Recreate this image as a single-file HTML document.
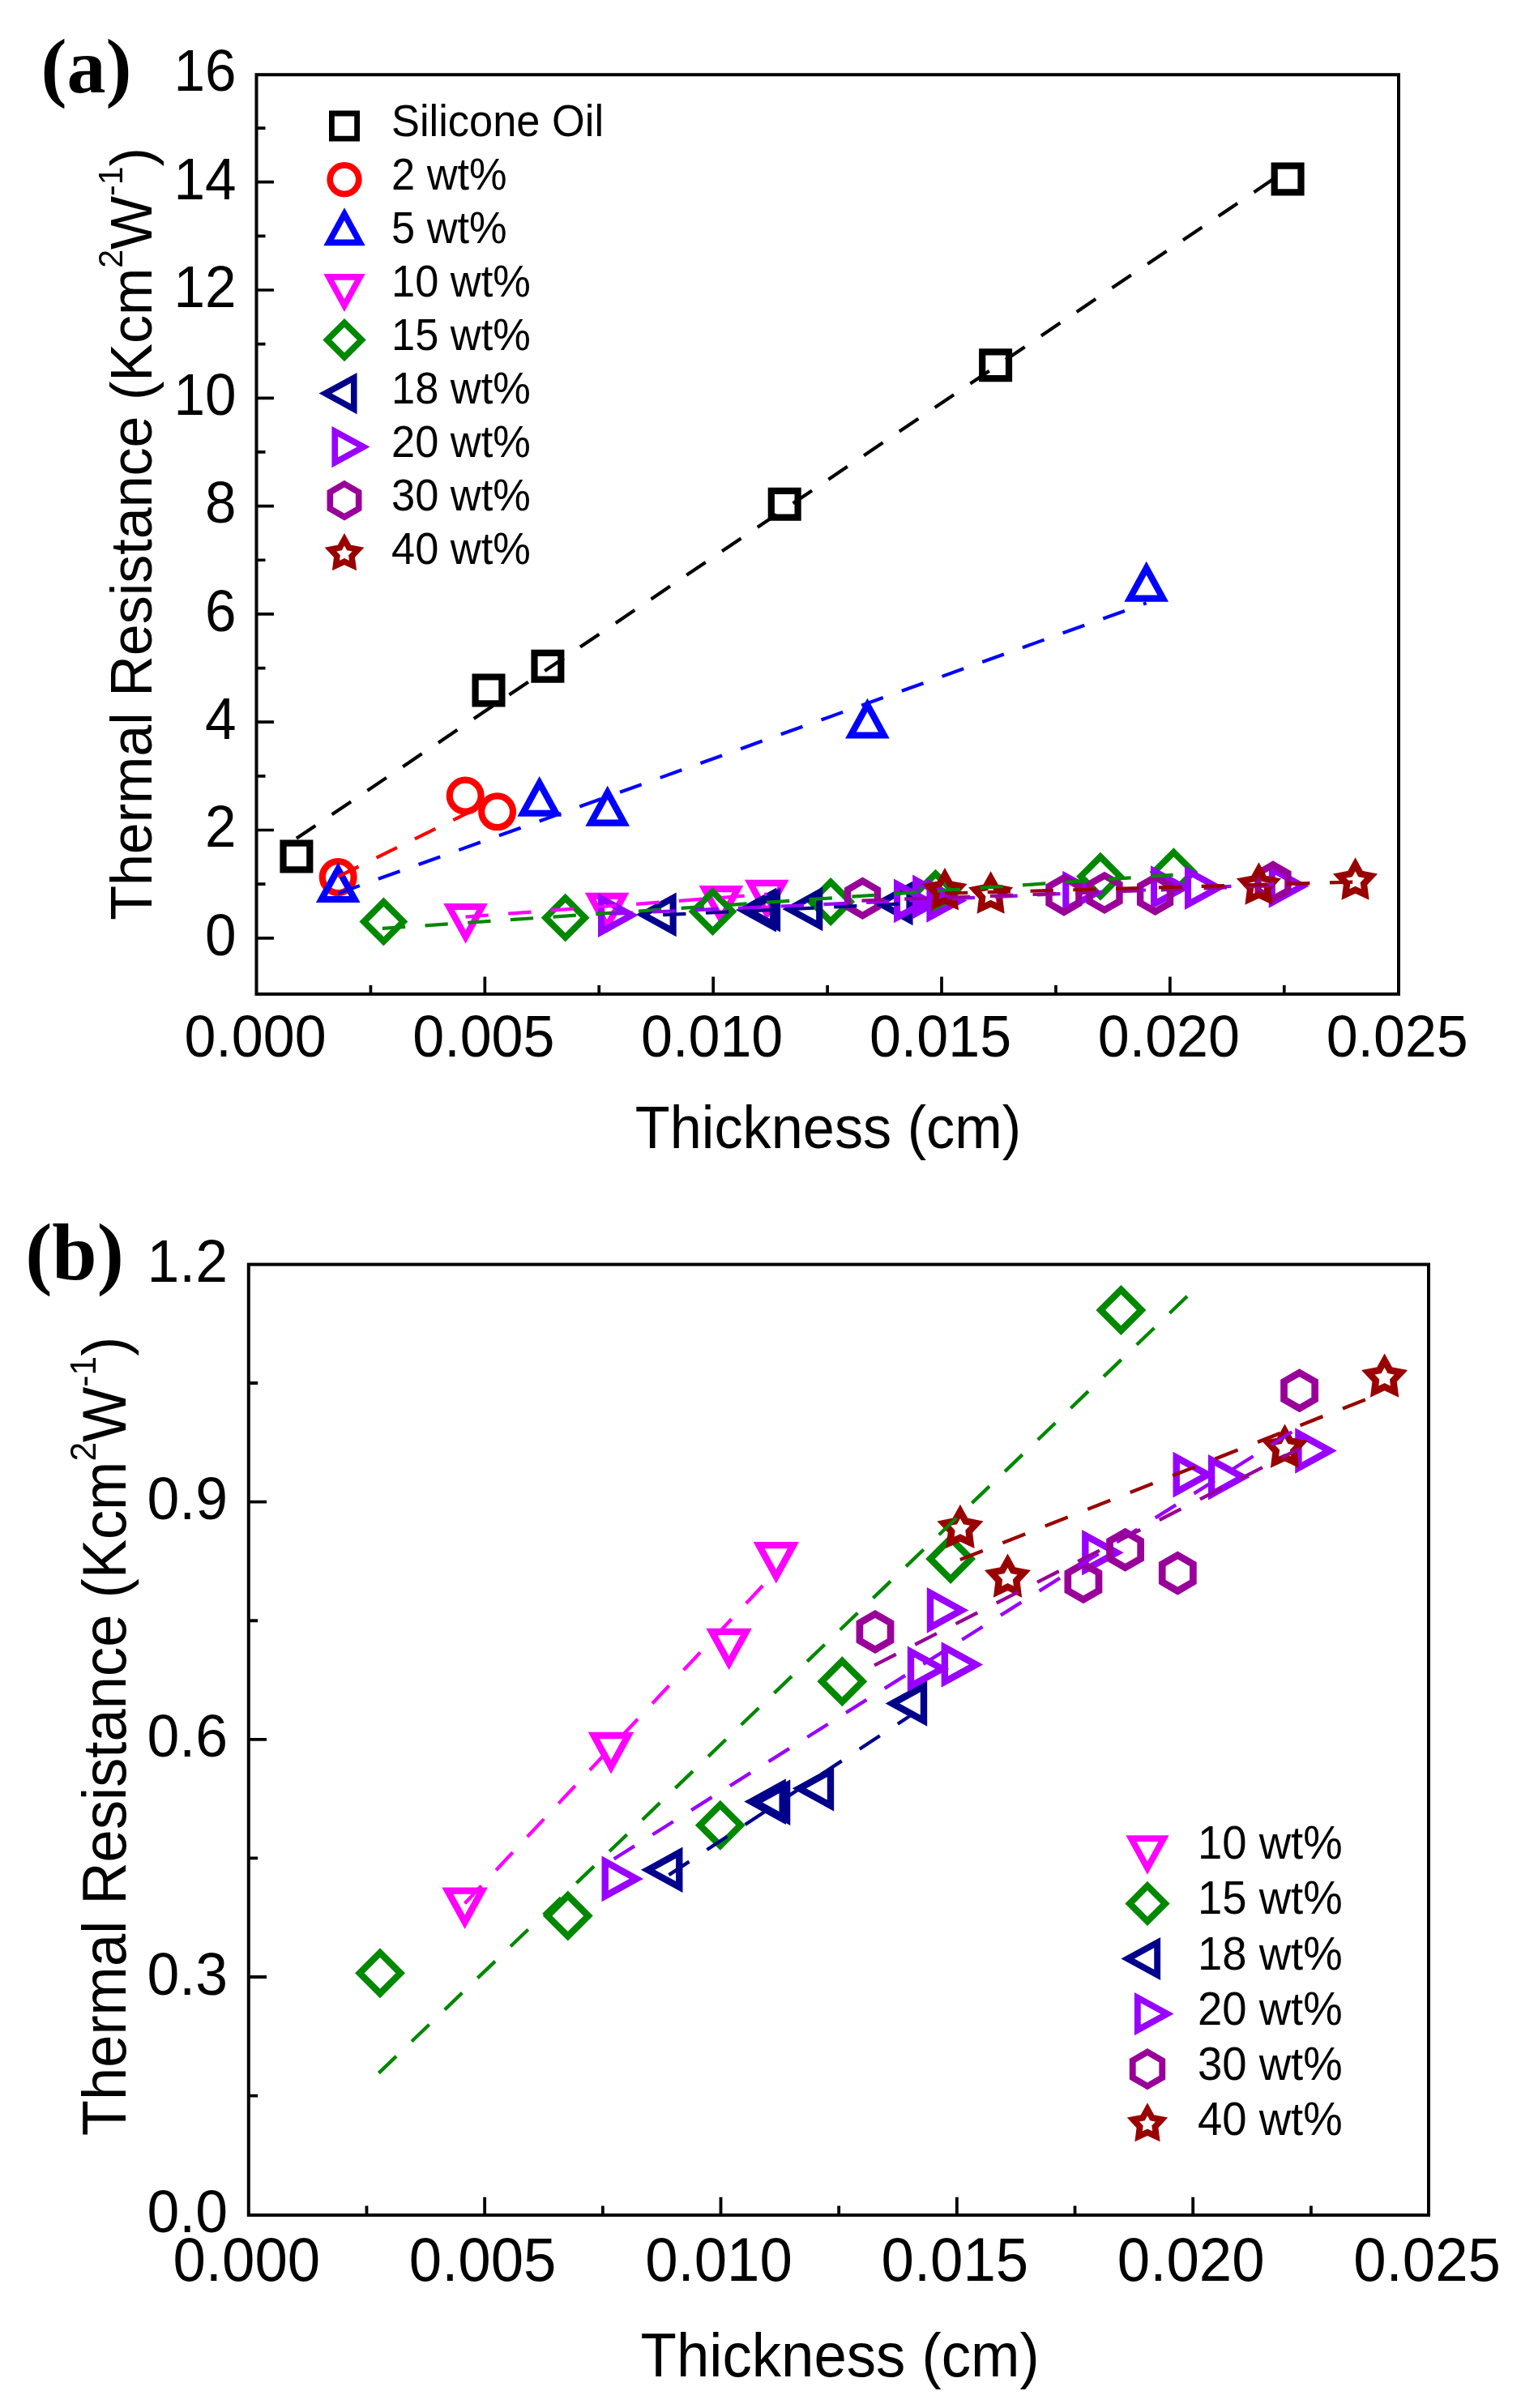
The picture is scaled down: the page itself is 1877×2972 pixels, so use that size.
<!DOCTYPE html>
<html><head><meta charset="utf-8"><title>Thermal Resistance vs Thickness</title>
<style>html,body{margin:0;padding:0;background:#fff}svg{display:block;filter:blur(0.75px)}</style></head>
<body>
<svg width="1877" height="2972" viewBox="0 0 1877 2972">
<rect width="1877" height="2972" fill="#fff"/>
<defs><clipPath id="clipB"><rect x="306.80" y="1560.60" width="1456.20" height="1173.30"/></clipPath></defs>
<g id="panelA">
<rect x="316.50" y="92.20" width="1409.50" height="1134.70" fill="none" stroke="#000" stroke-width="4.00"/>
<path d="M598.34 1226.90v-21.50M880.18 1226.90v-21.50M1162.02 1226.90v-21.50M1443.86 1226.90v-21.50M457.42 1226.90v-11.00M739.26 1226.90v-11.00M1021.10 1226.90v-11.00M1302.94 1226.90v-11.00M1584.78 1226.90v-11.00M316.50 1157.80h21.50M316.50 1024.50h21.50M316.50 891.20h21.50M316.50 757.90h21.50M316.50 624.60h21.50M316.50 491.30h21.50M316.50 358.00h21.50M316.50 224.70h21.50M316.50 1091.15h11.00M316.50 957.85h11.00M316.50 824.55h11.00M316.50 691.25h11.00M316.50 557.95h11.00M316.50 424.65h11.00M316.50 291.35h11.00M316.50 158.05h11.00" stroke="#000" stroke-width="3.70" fill="none"/>
<polygon points="349.50,1040.60 382.30,1040.60 382.30,1073.40 349.50,1073.40" fill="none" stroke="#000000" stroke-width="8.20" stroke-linejoin="miter"/>
<polygon points="586.60,835.50 619.40,835.50 619.40,868.30 586.60,868.30" fill="none" stroke="#000000" stroke-width="8.20" stroke-linejoin="miter"/>
<polygon points="659.50,805.90 692.30,805.90 692.30,838.70 659.50,838.70" fill="none" stroke="#000000" stroke-width="8.20" stroke-linejoin="miter"/>
<polygon points="951.80,605.80 984.60,605.80 984.60,638.60 951.80,638.60" fill="none" stroke="#000000" stroke-width="8.20" stroke-linejoin="miter"/>
<polygon points="1212.20,434.30 1245.00,434.30 1245.00,467.10 1212.20,467.10" fill="none" stroke="#000000" stroke-width="8.20" stroke-linejoin="miter"/>
<polygon points="1572.70,204.60 1605.50,204.60 1605.50,237.40 1572.70,237.40" fill="none" stroke="#000000" stroke-width="8.20" stroke-linejoin="miter"/>
<circle cx="417.20" cy="1082.60" r="19.40" fill="none" stroke="#FF0000" stroke-width="8.20"/>
<circle cx="574.20" cy="982.10" r="19.40" fill="none" stroke="#FF0000" stroke-width="8.20"/>
<circle cx="613.60" cy="1001.80" r="19.40" fill="none" stroke="#FF0000" stroke-width="8.20"/>
<polygon points="417.20,1072.67 437.70,1110.07 396.70,1110.07" fill="none" stroke="#0000FF" stroke-width="8.10" stroke-linejoin="miter" stroke-miterlimit="6"/>
<polygon points="665.70,966.37 686.20,1003.77 645.20,1003.77" fill="none" stroke="#0000FF" stroke-width="8.10" stroke-linejoin="miter" stroke-miterlimit="6"/>
<polygon points="749.70,978.27 770.20,1015.67 729.20,1015.67" fill="none" stroke="#0000FF" stroke-width="8.10" stroke-linejoin="miter" stroke-miterlimit="6"/>
<polygon points="1070.40,870.07 1090.90,907.47 1049.90,907.47" fill="none" stroke="#0000FF" stroke-width="8.10" stroke-linejoin="miter" stroke-miterlimit="6"/>
<polygon points="1414.70,701.27 1435.20,738.67 1394.20,738.67" fill="none" stroke="#0000FF" stroke-width="8.10" stroke-linejoin="miter" stroke-miterlimit="6"/>
<polygon points="574.59,1156.36 554.09,1118.96 595.09,1118.96" fill="none" stroke="#FF00FF" stroke-width="8.10" stroke-linejoin="miter" stroke-miterlimit="6"/>
<polygon points="749.10,1143.29 728.60,1105.89 769.60,1105.89" fill="none" stroke="#FF00FF" stroke-width="8.10" stroke-linejoin="miter" stroke-miterlimit="6"/>
<polygon points="889.95,1134.56 869.45,1097.16 910.45,1097.16" fill="none" stroke="#FF00FF" stroke-width="8.10" stroke-linejoin="miter" stroke-miterlimit="6"/>
<polygon points="946.25,1127.27 925.75,1089.87 966.75,1089.87" fill="none" stroke="#FF00FF" stroke-width="8.10" stroke-linejoin="miter" stroke-miterlimit="6"/>
<polygon points="473.41,1113.18 497.71,1137.48 473.41,1161.78 449.11,1137.48" fill="none" stroke="#008800" stroke-width="8.00" stroke-linejoin="miter"/>
<polygon points="697.64,1108.36 721.94,1132.66 697.64,1156.96 673.34,1132.66" fill="none" stroke="#008800" stroke-width="8.00" stroke-linejoin="miter"/>
<polygon points="879.50,1100.73 903.80,1125.03 879.50,1149.33 855.20,1125.03" fill="none" stroke="#008800" stroke-width="8.00" stroke-linejoin="miter"/>
<polygon points="1025.09,1088.63 1049.39,1112.93 1025.09,1137.23 1000.79,1112.93" fill="none" stroke="#008800" stroke-width="8.00" stroke-linejoin="miter"/>
<polygon points="1154.52,1078.31 1178.82,1102.61 1154.52,1126.91 1130.22,1102.61" fill="none" stroke="#008800" stroke-width="8.00" stroke-linejoin="miter"/>
<polygon points="1357.96,1057.37 1382.26,1081.67 1357.96,1105.97 1333.66,1081.67" fill="none" stroke="#008800" stroke-width="8.00" stroke-linejoin="miter"/>
<polygon points="1448.41,1051.99 1472.71,1076.29 1448.41,1100.59 1424.11,1076.29" fill="none" stroke="#008800" stroke-width="8.00" stroke-linejoin="miter"/>
<polygon points="793.24,1128.79 830.64,1108.29 830.64,1149.29" fill="none" stroke="#00008B" stroke-width="8.10" stroke-linejoin="miter" stroke-miterlimit="6"/>
<polygon points="916.48,1123.05 953.88,1102.55 953.88,1143.55" fill="none" stroke="#00008B" stroke-width="8.10" stroke-linejoin="miter" stroke-miterlimit="6"/>
<polygon points="921.70,1123.11 959.10,1102.61 959.10,1143.61" fill="none" stroke="#00008B" stroke-width="8.10" stroke-linejoin="miter" stroke-miterlimit="6"/>
<polygon points="973.84,1121.93 1011.24,1101.43 1011.24,1142.43" fill="none" stroke="#00008B" stroke-width="8.10" stroke-linejoin="miter" stroke-miterlimit="6"/>
<polygon points="1085.09,1114.79 1122.49,1094.29 1122.49,1135.29" fill="none" stroke="#00008B" stroke-width="8.10" stroke-linejoin="miter" stroke-miterlimit="6"/>
<polygon points="779.45,1129.55 742.05,1150.05 742.05,1109.05" fill="none" stroke="#9900FF" stroke-width="8.10" stroke-linejoin="miter" stroke-miterlimit="6"/>
<polygon points="1144.44,1111.87 1107.04,1132.37 1107.04,1091.37" fill="none" stroke="#9900FF" stroke-width="8.10" stroke-linejoin="miter" stroke-miterlimit="6"/>
<polygon points="1184.87,1111.51 1147.47,1132.01 1147.47,1091.01" fill="none" stroke="#9900FF" stroke-width="8.10" stroke-linejoin="miter" stroke-miterlimit="6"/>
<polygon points="1167.65,1106.94 1130.25,1127.44 1130.25,1086.44" fill="none" stroke="#9900FF" stroke-width="8.10" stroke-linejoin="miter" stroke-miterlimit="6"/>
<polygon points="1352.71,1102.09 1315.31,1122.59 1315.31,1081.59" fill="none" stroke="#9900FF" stroke-width="8.10" stroke-linejoin="miter" stroke-miterlimit="6"/>
<polygon points="1461.44,1095.53 1424.04,1116.03 1424.04,1075.03" fill="none" stroke="#9900FF" stroke-width="8.10" stroke-linejoin="miter" stroke-miterlimit="6"/>
<polygon points="1503.42,1095.74 1466.02,1116.24 1466.02,1075.24" fill="none" stroke="#9900FF" stroke-width="8.10" stroke-linejoin="miter" stroke-miterlimit="6"/>
<polygon points="1607.22,1093.51 1569.82,1114.01 1569.82,1073.01" fill="none" stroke="#9900FF" stroke-width="8.10" stroke-linejoin="miter" stroke-miterlimit="6"/>
<polygon points="1064.46,1087.45 1082.91,1098.10 1082.91,1119.40 1064.46,1130.05 1046.02,1119.40 1046.02,1098.10" fill="none" stroke="#990099" stroke-width="8.40" stroke-linejoin="miter"/>
<polygon points="1312.98,1083.24 1331.42,1093.89 1331.42,1115.19 1312.98,1125.84 1294.53,1115.19 1294.53,1093.89" fill="none" stroke="#990099" stroke-width="8.40" stroke-linejoin="miter"/>
<polygon points="1362.99,1080.55 1381.44,1091.20 1381.44,1112.50 1362.99,1123.15 1344.54,1112.50 1344.54,1091.20" fill="none" stroke="#990099" stroke-width="8.40" stroke-linejoin="miter"/>
<polygon points="1425.58,1082.51 1444.02,1093.16 1444.02,1114.46 1425.58,1125.11 1407.13,1114.46 1407.13,1093.16" fill="none" stroke="#990099" stroke-width="8.40" stroke-linejoin="miter"/>
<polygon points="1570.97,1067.15 1589.42,1077.80 1589.42,1099.10 1570.97,1109.75 1552.52,1099.10 1552.52,1077.80" fill="none" stroke="#990099" stroke-width="8.40" stroke-linejoin="miter"/>
<polygon points="1165.99,1079.52 1172.44,1091.19 1185.53,1093.72 1176.43,1103.46 1178.07,1116.70 1165.99,1111.05 1153.91,1116.70 1155.54,1103.46 1146.44,1093.72 1159.53,1091.19" fill="none" stroke="#990000" stroke-width="8.20" stroke-linejoin="miter"/>
<polygon points="1222.63,1083.66 1229.08,1095.33 1242.17,1097.86 1233.07,1107.60 1234.70,1120.84 1222.63,1115.19 1210.55,1120.84 1212.18,1107.60 1203.08,1097.86 1216.17,1095.33" fill="none" stroke="#990000" stroke-width="8.20" stroke-linejoin="miter"/>
<polygon points="1553.46,1072.76 1559.92,1084.42 1573.01,1086.95 1563.90,1096.70 1565.54,1109.93 1553.46,1104.29 1541.38,1109.93 1543.02,1096.70 1533.92,1086.95 1547.01,1084.42" fill="none" stroke="#990000" stroke-width="8.20" stroke-linejoin="miter"/>
<polygon points="1672.54,1066.82 1679.00,1078.48 1692.09,1081.01 1682.99,1090.76 1684.62,1103.99 1672.54,1098.35 1660.46,1103.99 1662.10,1090.76 1653.00,1081.01 1666.09,1078.48" fill="none" stroke="#990000" stroke-width="8.20" stroke-linejoin="miter"/>
<line x1="365.90" y1="1034.80" x2="1589.10" y2="209.10" stroke="#000000" stroke-width="4.20" stroke-dasharray="28.3 24.5"/>
<line x1="417.20" y1="1082.00" x2="605.50" y2="989.30" stroke="#FF0000" stroke-width="4.20" stroke-dasharray="28.3 24.5"/>
<line x1="417.20" y1="1102.70" x2="1414.70" y2="744.30" stroke="#0000FF" stroke-width="4.20" stroke-dasharray="28.3 24.5"/>
<line x1="574.59" y1="1131.62" x2="946.25" y2="1103.67" stroke="#FF00FF" stroke-width="4.20" stroke-dasharray="28.3 24.5"/>
<line x1="471.86" y1="1145.89" x2="1447.63" y2="1079.79" stroke="#008800" stroke-width="4.20" stroke-dasharray="28.3 24.5"/>
<line x1="818.17" y1="1129.22" x2="1110.02" y2="1115.64" stroke="#00008B" stroke-width="4.20" stroke-dasharray="28.3 24.5"/>
<line x1="752.68" y1="1127.87" x2="1582.29" y2="1091.02" stroke="#9900FF" stroke-width="4.20" stroke-dasharray="28.3 24.5"/>
<line x1="1063.49" y1="1111.58" x2="1570.97" y2="1093.33" stroke="#990099" stroke-width="4.20" stroke-dasharray="28.3 24.5"/>
<line x1="1165.94" y1="1102.68" x2="1672.35" y2="1088.57" stroke="#990000" stroke-width="4.20" stroke-dasharray="28.3 24.5"/>
<text transform="translate(291.50,1178.60) scale(1,1.045)" font-size="69.30" text-anchor="end" font-family="'Liberation Sans', Arial, sans-serif" font-weight="normal" >0</text>
<text transform="translate(291.50,1045.30) scale(1,1.045)" font-size="69.30" text-anchor="end" font-family="'Liberation Sans', Arial, sans-serif" font-weight="normal" >2</text>
<text transform="translate(291.50,912.00) scale(1,1.045)" font-size="69.30" text-anchor="end" font-family="'Liberation Sans', Arial, sans-serif" font-weight="normal" >4</text>
<text transform="translate(291.50,778.70) scale(1,1.045)" font-size="69.30" text-anchor="end" font-family="'Liberation Sans', Arial, sans-serif" font-weight="normal" >6</text>
<text transform="translate(291.50,645.40) scale(1,1.045)" font-size="69.30" text-anchor="end" font-family="'Liberation Sans', Arial, sans-serif" font-weight="normal" >8</text>
<text transform="translate(291.50,512.10) scale(1,1.045)" font-size="69.30" text-anchor="end" font-family="'Liberation Sans', Arial, sans-serif" font-weight="normal" >10</text>
<text transform="translate(291.50,378.80) scale(1,1.045)" font-size="69.30" text-anchor="end" font-family="'Liberation Sans', Arial, sans-serif" font-weight="normal" >12</text>
<text transform="translate(291.50,245.50) scale(1,1.045)" font-size="69.30" text-anchor="end" font-family="'Liberation Sans', Arial, sans-serif" font-weight="normal" >14</text>
<text transform="translate(291.50,112.20) scale(1,1.045)" font-size="69.30" text-anchor="end" font-family="'Liberation Sans', Arial, sans-serif" font-weight="normal" >16</text>
<text transform="translate(315.00,1303.50) scale(1,1.045)" font-size="70.00" text-anchor="middle" font-family="'Liberation Sans', Arial, sans-serif" font-weight="normal" >0.000</text>
<text transform="translate(596.84,1303.50) scale(1,1.045)" font-size="70.00" text-anchor="middle" font-family="'Liberation Sans', Arial, sans-serif" font-weight="normal" >0.005</text>
<text transform="translate(878.68,1303.50) scale(1,1.045)" font-size="70.00" text-anchor="middle" font-family="'Liberation Sans', Arial, sans-serif" font-weight="normal" >0.010</text>
<text transform="translate(1160.52,1303.50) scale(1,1.045)" font-size="70.00" text-anchor="middle" font-family="'Liberation Sans', Arial, sans-serif" font-weight="normal" >0.015</text>
<text transform="translate(1442.36,1303.50) scale(1,1.045)" font-size="70.00" text-anchor="middle" font-family="'Liberation Sans', Arial, sans-serif" font-weight="normal" >0.020</text>
<text transform="translate(1724.20,1303.50) scale(1,1.045)" font-size="70.00" text-anchor="middle" font-family="'Liberation Sans', Arial, sans-serif" font-weight="normal" >0.025</text>
<text transform="translate(1022.00,1417.30) scale(1,1.045)" font-size="70.30" text-anchor="middle" font-family="'Liberation Sans', Arial, sans-serif" font-weight="normal" >Thickness (cm)</text>
<text transform="translate(187.00,659.00) rotate(-90) scale(1,1.045)" font-size="70.00" text-anchor="middle" font-family="'Liberation Sans', Arial, sans-serif">Thermal Resistance (Kcm<tspan font-size="41.0" dy="-34.0">2</tspan><tspan dy="34.0">W</tspan><tspan font-size="41.0" dy="-34.0">-1</tspan><tspan dy="34.0">)</tspan></text>
<text transform="translate(50.50,114.00) scale(1,1.000)" font-size="96.00" text-anchor="start" font-family="'Liberation Serif', 'Times New Roman', serif" font-weight="bold" >(a)</text>
<polygon points="409.40,140.00 440.60,140.00 440.60,171.20 409.40,171.20" fill="none" stroke="#000000" stroke-width="6.80" stroke-linejoin="miter"/>
<text transform="translate(483.00,168.40) scale(1,1.045)" font-size="52.40" text-anchor="start" font-family="'Liberation Sans', Arial, sans-serif" font-weight="normal" >Silicone Oil</text>
<circle cx="425.00" cy="221.60" r="17.80" fill="none" stroke="#FF0000" stroke-width="7.70"/>
<text transform="translate(483.00,234.40) scale(1,1.045)" font-size="52.40" text-anchor="start" font-family="'Liberation Sans', Arial, sans-serif" font-weight="normal" >2 wt%</text>
<polygon points="425.00,264.07 444.30,299.37 405.70,299.37" fill="none" stroke="#0000FF" stroke-width="7.60" stroke-linejoin="miter" stroke-miterlimit="6"/>
<text transform="translate(483.00,300.40) scale(1,1.045)" font-size="52.40" text-anchor="start" font-family="'Liberation Sans', Arial, sans-serif" font-weight="normal" >5 wt%</text>
<polygon points="425.00,377.13 405.70,341.83 444.30,341.83" fill="none" stroke="#FF00FF" stroke-width="7.60" stroke-linejoin="miter" stroke-miterlimit="6"/>
<text transform="translate(483.00,366.40) scale(1,1.045)" font-size="52.40" text-anchor="start" font-family="'Liberation Sans', Arial, sans-serif" font-weight="normal" >10 wt%</text>
<polygon points="425.00,398.40 446.20,419.60 425.00,440.80 403.80,419.60" fill="none" stroke="#008800" stroke-width="7.80" stroke-linejoin="miter"/>
<text transform="translate(483.00,432.40) scale(1,1.045)" font-size="52.40" text-anchor="start" font-family="'Liberation Sans', Arial, sans-serif" font-weight="normal" >15 wt%</text>
<polygon points="401.47,485.60 436.77,466.30 436.77,504.90" fill="none" stroke="#00008B" stroke-width="7.60" stroke-linejoin="miter" stroke-miterlimit="6"/>
<text transform="translate(483.00,498.40) scale(1,1.045)" font-size="52.40" text-anchor="start" font-family="'Liberation Sans', Arial, sans-serif" font-weight="normal" >18 wt%</text>
<polygon points="448.53,551.60 413.23,570.90 413.23,532.30" fill="none" stroke="#9900FF" stroke-width="7.60" stroke-linejoin="miter" stroke-miterlimit="6"/>
<text transform="translate(483.00,564.40) scale(1,1.045)" font-size="52.40" text-anchor="start" font-family="'Liberation Sans', Arial, sans-serif" font-weight="normal" >20 wt%</text>
<polygon points="425.00,597.20 442.67,607.40 442.67,627.80 425.00,638.00 407.33,627.80 407.33,607.40" fill="none" stroke="#990099" stroke-width="7.60" stroke-linejoin="miter"/>
<text transform="translate(483.00,630.40) scale(1,1.045)" font-size="52.40" text-anchor="start" font-family="'Liberation Sans', Arial, sans-serif" font-weight="normal" >30 wt%</text>
<polygon points="425.00,665.70 430.61,675.87 442.02,678.07 434.08,686.55 435.52,698.08 425.00,693.15 414.48,698.08 415.92,686.55 407.98,678.07 419.39,675.87" fill="none" stroke="#990000" stroke-width="7.50" stroke-linejoin="miter"/>
<text transform="translate(483.00,696.40) scale(1,1.045)" font-size="52.40" text-anchor="start" font-family="'Liberation Sans', Arial, sans-serif" font-weight="normal" >40 wt%</text>
</g>
<g id="panelB">
<rect x="306.80" y="1560.60" width="1456.20" height="1173.30" fill="none" stroke="#000" stroke-width="4.00"/>
<path d="M598.15 2733.90v-22.23M889.50 2733.90v-22.23M1180.85 2733.90v-22.23M1472.20 2733.90v-22.23M452.48 2733.90v-11.37M743.83 2733.90v-11.37M1035.17 2733.90v-11.37M1326.53 2733.90v-11.37M1617.88 2733.90v-11.37M306.80 2440.01h22.23M306.80 2146.82h22.23M306.80 1853.63h22.23M306.80 2586.61h11.37M306.80 2293.41h11.37M306.80 2000.22h11.37M306.80 1707.03h11.37" stroke="#000" stroke-width="3.83" fill="none"/>
<g clip-path="url(#clipB)">
<polygon points="573.60,2372.28 552.40,2333.61 594.80,2333.61" fill="none" stroke="#FF00FF" stroke-width="8.38" stroke-linejoin="miter" stroke-miterlimit="6"/>
<polygon points="754.00,2180.68 732.80,2142.01 775.20,2142.01" fill="none" stroke="#FF00FF" stroke-width="8.38" stroke-linejoin="miter" stroke-miterlimit="6"/>
<polygon points="899.60,2052.58 878.40,2013.91 920.80,2013.91" fill="none" stroke="#FF00FF" stroke-width="8.38" stroke-linejoin="miter" stroke-miterlimit="6"/>
<polygon points="957.80,1945.78 936.60,1907.11 979.00,1907.11" fill="none" stroke="#FF00FF" stroke-width="8.38" stroke-linejoin="miter" stroke-miterlimit="6"/>
<polygon points="469.00,2410.17 494.13,2435.30 469.00,2460.43 443.87,2435.30" fill="none" stroke="#008800" stroke-width="8.27" stroke-linejoin="miter"/>
<polygon points="700.80,2339.47 725.93,2364.60 700.80,2389.73 675.67,2364.60" fill="none" stroke="#008800" stroke-width="8.27" stroke-linejoin="miter"/>
<polygon points="888.80,2227.57 913.93,2252.70 888.80,2277.83 863.67,2252.70" fill="none" stroke="#008800" stroke-width="8.27" stroke-linejoin="miter"/>
<polygon points="1039.30,2050.07 1064.43,2075.20 1039.30,2100.33 1014.17,2075.20" fill="none" stroke="#008800" stroke-width="8.27" stroke-linejoin="miter"/>
<polygon points="1173.10,1898.87 1198.23,1924.00 1173.10,1949.13 1147.97,1924.00" fill="none" stroke="#008800" stroke-width="8.27" stroke-linejoin="miter"/>
<polygon points="1383.40,1591.77 1408.53,1616.90 1383.40,1642.03 1358.27,1616.90" fill="none" stroke="#008800" stroke-width="8.27" stroke-linejoin="miter"/>
<polygon points="799.62,2307.80 838.29,2286.60 838.29,2329.00" fill="none" stroke="#00008B" stroke-width="8.38" stroke-linejoin="miter" stroke-miterlimit="6"/>
<polygon points="927.02,2223.60 965.69,2202.40 965.69,2244.80" fill="none" stroke="#00008B" stroke-width="8.38" stroke-linejoin="miter" stroke-miterlimit="6"/>
<polygon points="932.42,2224.60 971.09,2203.40 971.09,2245.80" fill="none" stroke="#00008B" stroke-width="8.38" stroke-linejoin="miter" stroke-miterlimit="6"/>
<polygon points="986.32,2207.30 1024.99,2186.10 1024.99,2228.50" fill="none" stroke="#00008B" stroke-width="8.38" stroke-linejoin="miter" stroke-miterlimit="6"/>
<polygon points="1101.32,2102.50 1139.99,2081.30 1139.99,2123.70" fill="none" stroke="#00008B" stroke-width="8.38" stroke-linejoin="miter" stroke-miterlimit="6"/>
<polygon points="785.38,2318.90 746.71,2340.10 746.71,2297.70" fill="none" stroke="#9900FF" stroke-width="8.38" stroke-linejoin="miter" stroke-miterlimit="6"/>
<polygon points="1162.68,2059.70 1124.01,2080.90 1124.01,2038.50" fill="none" stroke="#9900FF" stroke-width="8.38" stroke-linejoin="miter" stroke-miterlimit="6"/>
<polygon points="1204.48,2054.50 1165.81,2075.70 1165.81,2033.30" fill="none" stroke="#9900FF" stroke-width="8.38" stroke-linejoin="miter" stroke-miterlimit="6"/>
<polygon points="1186.68,1987.40 1148.01,2008.60 1148.01,1966.20" fill="none" stroke="#9900FF" stroke-width="8.38" stroke-linejoin="miter" stroke-miterlimit="6"/>
<polygon points="1377.98,1916.30 1339.31,1937.50 1339.31,1895.10" fill="none" stroke="#9900FF" stroke-width="8.38" stroke-linejoin="miter" stroke-miterlimit="6"/>
<polygon points="1490.38,1820.10 1451.71,1841.30 1451.71,1798.90" fill="none" stroke="#9900FF" stroke-width="8.38" stroke-linejoin="miter" stroke-miterlimit="6"/>
<polygon points="1533.78,1823.20 1495.11,1844.40 1495.11,1802.00" fill="none" stroke="#9900FF" stroke-width="8.38" stroke-linejoin="miter" stroke-miterlimit="6"/>
<polygon points="1641.08,1790.50 1602.41,1811.70 1602.41,1769.30" fill="none" stroke="#9900FF" stroke-width="8.38" stroke-linejoin="miter" stroke-miterlimit="6"/>
<polygon points="1080.00,1991.98 1099.07,2002.99 1099.07,2025.01 1080.00,2036.02 1060.93,2025.01 1060.93,2002.99" fill="none" stroke="#990099" stroke-width="8.69" stroke-linejoin="miter"/>
<polygon points="1336.90,1930.18 1355.97,1941.19 1355.97,1963.21 1336.90,1974.22 1317.83,1963.21 1317.83,1941.19" fill="none" stroke="#990099" stroke-width="8.69" stroke-linejoin="miter"/>
<polygon points="1388.60,1890.78 1407.67,1901.79 1407.67,1923.81 1388.60,1934.82 1369.53,1923.81 1369.53,1901.79" fill="none" stroke="#990099" stroke-width="8.69" stroke-linejoin="miter"/>
<polygon points="1453.30,1919.58 1472.37,1930.59 1472.37,1952.61 1453.30,1963.62 1434.23,1952.61 1434.23,1930.59" fill="none" stroke="#990099" stroke-width="8.69" stroke-linejoin="miter"/>
<polygon points="1603.60,1694.28 1622.67,1705.29 1622.67,1727.31 1603.60,1738.32 1584.53,1727.31 1584.53,1705.29" fill="none" stroke="#990099" stroke-width="8.69" stroke-linejoin="miter"/>
<polygon points="1184.95,1865.45 1191.62,1877.51 1205.16,1880.13 1195.75,1890.21 1197.44,1903.89 1184.95,1898.05 1172.46,1903.89 1174.15,1890.21 1164.74,1880.13 1178.28,1877.51" fill="none" stroke="#990000" stroke-width="8.48" stroke-linejoin="miter"/>
<polygon points="1243.50,1926.15 1250.17,1938.21 1263.71,1940.83 1254.30,1950.91 1255.99,1964.59 1243.50,1958.75 1231.01,1964.59 1232.70,1950.91 1223.29,1940.83 1236.83,1938.21" fill="none" stroke="#990000" stroke-width="8.48" stroke-linejoin="miter"/>
<polygon points="1585.50,1766.25 1592.17,1778.31 1605.71,1780.93 1596.30,1791.01 1597.99,1804.69 1585.50,1798.85 1573.01,1804.69 1574.70,1791.01 1565.29,1780.93 1578.83,1778.31" fill="none" stroke="#990000" stroke-width="8.48" stroke-linejoin="miter"/>
<polygon points="1708.60,1679.15 1715.27,1691.21 1728.81,1693.83 1719.40,1703.91 1721.09,1717.59 1708.60,1711.75 1696.11,1717.59 1697.80,1703.91 1688.39,1693.83 1701.93,1691.21" fill="none" stroke="#990000" stroke-width="8.48" stroke-linejoin="miter"/>
<line x1="573.60" y1="2349.30" x2="957.80" y2="1939.50" stroke="#FF00FF" stroke-width="4.34" stroke-dasharray="30.0 26.4"/>
<line x1="467.40" y1="2558.60" x2="1476.10" y2="1589.30" stroke="#008800" stroke-width="4.34" stroke-dasharray="30.0 26.4"/>
<line x1="825.40" y1="2314.10" x2="1127.10" y2="2115.00" stroke="#00008B" stroke-width="4.34" stroke-dasharray="30.0 26.4"/>
<line x1="757.70" y1="2294.30" x2="1615.30" y2="1754.00" stroke="#9900FF" stroke-width="4.34" stroke-dasharray="30.0 26.4"/>
<line x1="1079.00" y1="2055.40" x2="1603.60" y2="1787.90" stroke="#990099" stroke-width="4.34" stroke-dasharray="30.0 26.4"/>
<line x1="1184.90" y1="1925.00" x2="1708.40" y2="1718.10" stroke="#990000" stroke-width="4.34" stroke-dasharray="30.0 26.4"/>
</g>
<text transform="translate(281.00,2754.80) scale(1,1.045)" font-size="71.60" text-anchor="end" font-family="'Liberation Sans', Arial, sans-serif" font-weight="normal" >0.0</text>
<text transform="translate(281.00,2461.61) scale(1,1.045)" font-size="71.60" text-anchor="end" font-family="'Liberation Sans', Arial, sans-serif" font-weight="normal" >0.3</text>
<text transform="translate(281.00,2168.42) scale(1,1.045)" font-size="71.60" text-anchor="end" font-family="'Liberation Sans', Arial, sans-serif" font-weight="normal" >0.6</text>
<text transform="translate(281.00,1875.23) scale(1,1.045)" font-size="71.60" text-anchor="end" font-family="'Liberation Sans', Arial, sans-serif" font-weight="normal" >0.9</text>
<text transform="translate(281.00,1582.04) scale(1,1.045)" font-size="71.60" text-anchor="end" font-family="'Liberation Sans', Arial, sans-serif" font-weight="normal" >1.2</text>
<text transform="translate(304.30,2814.80) scale(1,1.045)" font-size="72.60" text-anchor="middle" font-family="'Liberation Sans', Arial, sans-serif" font-weight="normal" >0.000</text>
<text transform="translate(595.65,2814.80) scale(1,1.045)" font-size="72.60" text-anchor="middle" font-family="'Liberation Sans', Arial, sans-serif" font-weight="normal" >0.005</text>
<text transform="translate(887.00,2814.80) scale(1,1.045)" font-size="72.60" text-anchor="middle" font-family="'Liberation Sans', Arial, sans-serif" font-weight="normal" >0.010</text>
<text transform="translate(1178.35,2814.80) scale(1,1.045)" font-size="72.60" text-anchor="middle" font-family="'Liberation Sans', Arial, sans-serif" font-weight="normal" >0.015</text>
<text transform="translate(1469.70,2814.80) scale(1,1.045)" font-size="72.60" text-anchor="middle" font-family="'Liberation Sans', Arial, sans-serif" font-weight="normal" >0.020</text>
<text transform="translate(1761.05,2814.80) scale(1,1.045)" font-size="72.60" text-anchor="middle" font-family="'Liberation Sans', Arial, sans-serif" font-weight="normal" >0.025</text>
<text transform="translate(1036.60,2932.80) scale(1,1.045)" font-size="72.60" text-anchor="middle" font-family="'Liberation Sans', Arial, sans-serif" font-weight="normal" >Thickness (cm)</text>
<text transform="translate(154.50,2143.00) rotate(-90) scale(1,1.045)" font-size="72.40" text-anchor="middle" font-family="'Liberation Sans', Arial, sans-serif">Thermal Resistance (Kcm<tspan font-size="42.5" dy="-35.0">2</tspan><tspan dy="35.0">W</tspan><tspan font-size="42.5" dy="-35.0">-1</tspan><tspan dy="35.0">)</tspan></text>
<text transform="translate(31.20,1579.00) scale(1,1.000)" font-size="99.50" text-anchor="start" font-family="'Liberation Serif', 'Times New Roman', serif" font-weight="bold" >(b)</text>
<polygon points="1416.00,2305.63 1396.04,2269.13 1435.96,2269.13" fill="none" stroke="#FF00FF" stroke-width="7.86" stroke-linejoin="miter" stroke-miterlimit="6"/>
<text transform="translate(1478.00,2294.30) scale(1,1.045)" font-size="54.50" text-anchor="start" font-family="'Liberation Sans', Arial, sans-serif" font-weight="normal" >10 wt%</text>
<polygon points="1416.00,2327.48 1437.92,2349.40 1416.00,2371.32 1394.08,2349.40" fill="none" stroke="#008800" stroke-width="8.07" stroke-linejoin="miter"/>
<text transform="translate(1478.00,2362.40) scale(1,1.045)" font-size="54.50" text-anchor="start" font-family="'Liberation Sans', Arial, sans-serif" font-weight="normal" >15 wt%</text>
<polygon points="1391.67,2417.50 1428.17,2397.54 1428.17,2437.46" fill="none" stroke="#00008B" stroke-width="7.86" stroke-linejoin="miter" stroke-miterlimit="6"/>
<text transform="translate(1478.00,2430.50) scale(1,1.045)" font-size="54.50" text-anchor="start" font-family="'Liberation Sans', Arial, sans-serif" font-weight="normal" >18 wt%</text>
<polygon points="1440.33,2485.60 1403.83,2505.56 1403.83,2465.64" fill="none" stroke="#9900FF" stroke-width="7.86" stroke-linejoin="miter" stroke-miterlimit="6"/>
<text transform="translate(1478.00,2498.60) scale(1,1.045)" font-size="54.50" text-anchor="start" font-family="'Liberation Sans', Arial, sans-serif" font-weight="normal" >20 wt%</text>
<polygon points="1416.00,2532.61 1434.27,2543.15 1434.27,2564.25 1416.00,2574.79 1397.73,2564.25 1397.73,2543.15" fill="none" stroke="#990099" stroke-width="7.86" stroke-linejoin="miter"/>
<text transform="translate(1478.00,2566.70) scale(1,1.045)" font-size="54.50" text-anchor="start" font-family="'Liberation Sans', Arial, sans-serif" font-weight="normal" >30 wt%</text>
<polygon points="1416.00,2603.29 1421.80,2613.81 1433.60,2616.08 1425.39,2624.85 1426.88,2636.77 1416.00,2631.67 1405.12,2636.77 1406.61,2624.85 1398.40,2616.08 1410.20,2613.81" fill="none" stroke="#990000" stroke-width="7.75" stroke-linejoin="miter"/>
<text transform="translate(1478.00,2634.80) scale(1,1.045)" font-size="54.50" text-anchor="start" font-family="'Liberation Sans', Arial, sans-serif" font-weight="normal" >40 wt%</text>
</g>
</svg>
</body></html>
